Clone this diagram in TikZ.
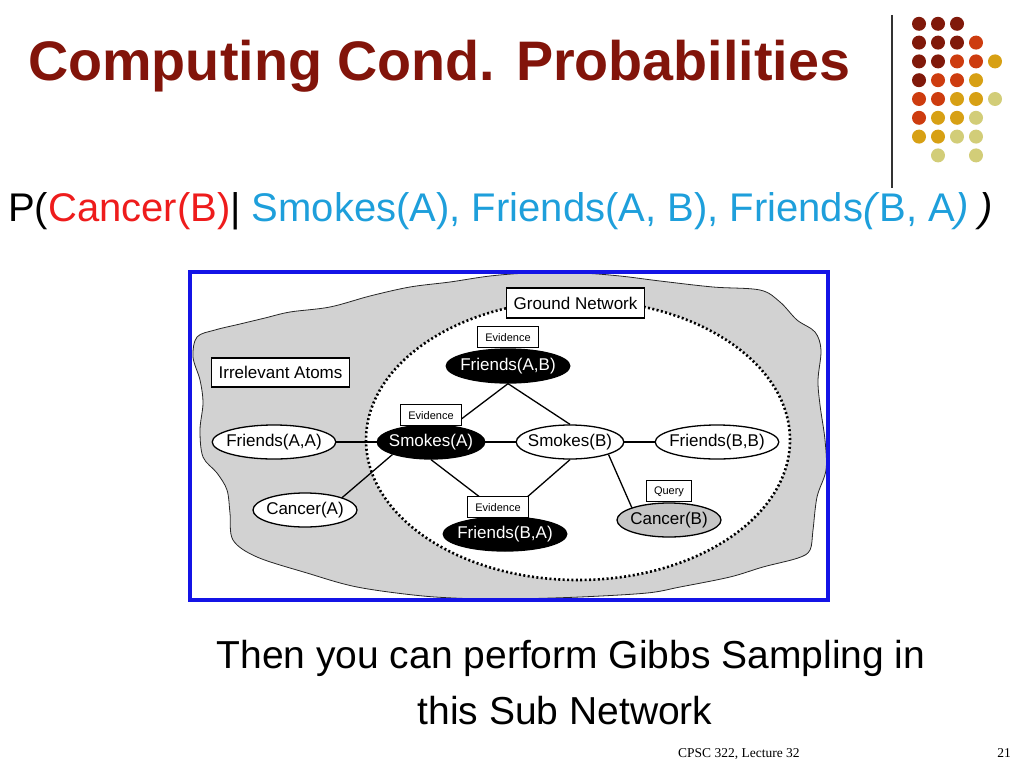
\documentclass[tikz,border=0pt]{standalone}
\usepackage{fontspec}
\setmainfont{Liberation Sans}
\newfontfamily\footfont{Liberation Serif}
\usetikzlibrary{shapes.geometric, positioning}

\definecolor{titlered}{HTML}{82140A}
\definecolor{condred}{HTML}{EE1C1C}
\definecolor{evicyan}{HTML}{1E9FDB}
\definecolor{framecol}{HTML}{1414E6}
\definecolor{cloudgray}{HTML}{D2D2D2}
\definecolor{querygray}{HTML}{C6C6C6}
\definecolor{dotA}{HTML}{80190A}
\definecolor{dotB}{HTML}{CD3C0F}
\definecolor{dotC}{HTML}{D7A014}
\definecolor{dotD}{HTML}{D2CD78}

\begin{document}
\begin{tikzpicture}[
    x=1pt, y=-1pt,
    every node/.style={font=\fontsize{17}{20}\selectfont},
    atom/.style={ellipse, draw, line width=1.3pt, fill=white, inner xsep=-4pt, inner ysep=1pt, minimum width=104pt, minimum height=34pt},
    observed/.style={atom, fill=black, text=white},
    queryatom/.style={atom, fill=querygray},
    tag/.style={draw, line width=1pt, fill=white, inner xsep=8pt, inner ysep=0pt, minimum height=21pt, font=\fontsize{11}{13}\selectfont},
    caption/.style={draw, line width=1.6pt, fill=white, inner xsep=7pt, inner ysep=0pt, minimum height=30pt},
    link/.style={line width=1.3pt},
    plain/.style={inner sep=0pt},
  ]
  \useasboundingbox (0,0) rectangle (1024,768);
  % --- heading
  \node[plain, anchor=base west, text=titlered, font=\fontsize{55.7}{60}\selectfont\bfseries] (title) at (28,80) {Computing Cond. Probabilities};
  \draw[line width=1.2pt, black!80] (892,15) -- (892,188);
  \foreach \c/\r/\col in {1/1/dotA, 2/1/dotA, 3/1/dotA,
      1/2/dotA, 2/2/dotA, 3/2/dotA, 4/2/dotB,
      1/3/dotA, 2/3/dotA, 3/3/dotB, 4/3/dotB, 5/3/dotC,
      1/4/dotA, 2/4/dotB, 3/4/dotB, 4/4/dotC,
      1/5/dotB, 2/5/dotB, 3/5/dotC, 4/5/dotC, 5/5/dotD,
      1/6/dotB, 2/6/dotC, 3/6/dotC, 4/6/dotD,
      1/7/dotC, 2/7/dotC, 3/7/dotD, 4/7/dotD,
      2/8/dotD, 4/8/dotD}
    \fill[\col] ({900+19*\c},{5+18.8*\r}) circle (7pt);
  % --- conditional query
  \node[plain, anchor=base west, font=\fontsize{40}{44}\selectfont] (cond) at (8,221)
    {P(\textcolor{condred}{Cancer(B)}| \textcolor{evicyan}{Smokes(A), Friends(A, B), Friends\textit{(}B, A\textit{)}} \textit{)}};
  % --- figure frame and cloud
  \fill[white] (190,272) rectangle (828,600);
  \draw[fill=cloudgray, draw=black!85, line width=0.8pt] plot[smooth cycle, tension=0.55] coordinates {
    (197,337) (215,330) (240,324) (265,318) (290,312) (330,307) (370,296) (410,287)
    (450,282) (490,276) (530,273) (580,273) (620,276) (660,281) (713,287) (760,290)
    (780,302) (797,320) (815,332) (821,350) (818,380) (820,405) (825,440) (826,470)
    (817,497) (813,530) (810,550) (798,558) (763,567) (730,577) (680,587) (647,593)
    (580,597) (513,599) (480,599) (423,596) (357,587) (307,573) (257,557) (233,540)
    (230,513) (227,490) (217,473) (203,457) (200,430) (203,403) (200,380) (193,357)};
  \draw[fill=white, line width=2.6pt, dash pattern=on 2pt off 2.4pt] (578,440) ellipse [x radius=212pt, y radius=140pt];
  \draw[framecol, line width=4.5pt] (190,272) rectangle (828,600);
  % --- atoms
  \node[observed] (fab) at (508,366) {Friends(A,B)};
  \node[observed] (sa) at (431,442) {Smokes(A)};
  \node[atom] (sb) at (570,442) {Smokes(B)};
  \node[atom] (fbb) at (717,442) {Friends(B,B)};
  \node[atom] (faa) at (274,442) {Friends(A,A)};
  \node[atom] (ca) at (305,510) {Cancer(A)};
  \node[observed] (fba) at (505,534) {Friends(B,A)};
  \node[queryatom] (cb) at (669,520) {Cancer(B)};
  % --- edges
  \draw[link] (faa) -- (sa);
  \draw[link] (sa) -- (sb);
  \draw[link] (sb) -- (fbb);
  \draw[link] (fab.south) -- (sa);
  \draw[link] (fab.south) -- (sb.north);
  \draw[link] (sa.south west) -- (ca.north east);
  \draw[link] (sa.south) -- (fba.north);
  \draw[link] (sb.south) -- (fba.north);
  \draw[link] (sb.south east) -- (cb.north west);
  % --- tags
  \node[tag, above=0pt of fab] (evab) {Evidence};
  \node[tag, above=-2pt of sa] (evsa) {Evidence};
  \node[tag, above=-2pt of fba, xshift=-7pt] (evba) {Evidence};
  \node[tag, above=0pt of cb] (qcb) {Query};
  \node[caption] (ground) at (575.5,303) {Ground Network};
  \node[caption, minimum height=29pt] (irrel) at (280.5,372.5) {Irrelevant Atoms};
  % --- caption text
  \node[plain, anchor=base, font=\fontsize{39}{44}\selectfont] (gibbs) at (571,668) {Then you can perform Gibbs Sampling in};
  \node[plain, anchor=base, font=\fontsize{39}{44}\selectfont] (subnet) at (565,724) {this Sub Network};
  \node[plain, anchor=base west, font=\footfont\fontsize{13.5}{16}\selectfont] (foot) at (678,757) {CPSC 322, Lecture 32};
  \node[plain, anchor=base east, font=\footfont\fontsize{13.5}{16}\selectfont] (page) at (1011,757) {21};
\end{tikzpicture}
\end{document}
